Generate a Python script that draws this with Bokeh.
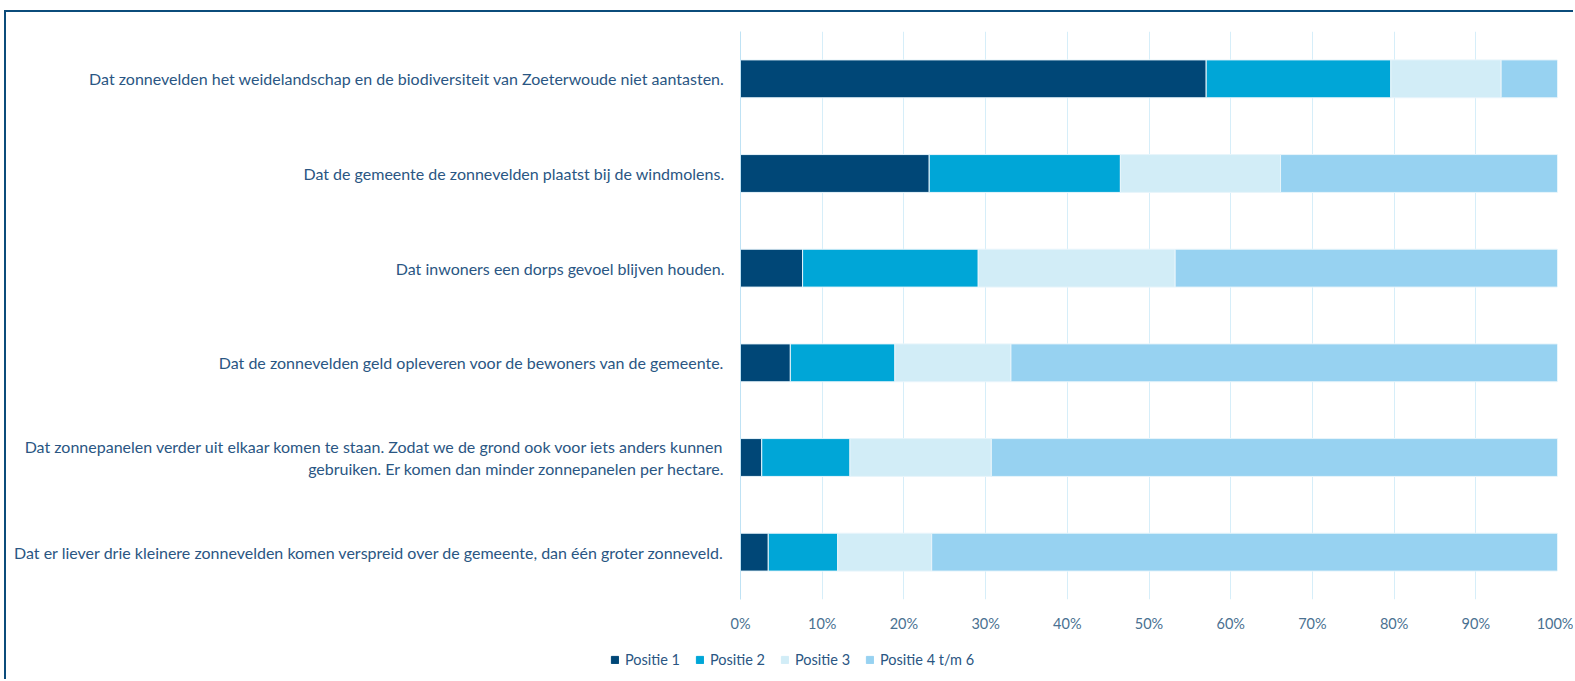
from bokeh.plotting import figure
from bokeh.models import (FactorRange, Range1d, Legend, LegendItem, PrintfTickFormatter,
                          FixedTicker, ColumnDataSource, Label)
from bokeh.embed import file_html
from bokeh.resources import INLINE

statements = [
    "Dat zonnevelden het weidelandschap en de biodiversiteit van Zoeterwoude niet aantasten.",
    "Dat de gemeente de zonnevelden plaatst bij de windmolens.",
    "Dat inwoners een dorps gevoel blijven houden.",
    "Dat de zonnevelden geld opleveren voor de bewoners van de gemeente.",
    "Dat zonnepanelen verder uit elkaar komen te staan. Zodat we de grond ook voor iets anders kunnen\ngebruiken. Er komen dan minder zonnepanelen per hectare.",
    "Dat er liever drie kleinere zonnevelden komen verspreid over de gemeente, dan één groter zonneveld.",
]
series = ["Positie 1", "Positie 2", "Positie 3", "Positie 4 t/m 6"]
positie_1 = [57.0, 23.1, 7.6, 6.1, 2.6, 3.4]
positie_2 = [22.6, 23.4, 21.5, 12.8, 10.8, 8.5]
positie_3 = [13.5, 19.6, 24.1, 14.2, 17.3, 11.5]
positie_4_6 = [6.9, 33.9, 46.8, 66.9, 69.3, 76.6]
x_ticks = [0, 10, 20, 30, 40, 50, 60, 70, 80, 90, 100]

colors = ["#004777", "#00A6D7", "#D2EDF7", "#97D2F1"]
FONT = "Lato"
LABEL_COLOR = "#2A5683"
BORDER = "2px solid #0B4C7B"

source = ColumnDataSource(dict(
    stmt=statements,
    p1=positie_1, p2=positie_2, p3=positie_3, p4=positie_4_6,
))

p = figure(
    width=1569, height=632,
    y_range=FactorRange(*reversed(statements), range_padding=0),
    x_range=Range1d(0, 100),
    output_backend="svg", toolbar_location=None,
    min_border_left=734, min_border_right=18, min_border_top=19, min_border_bottom=45,
)
p.styles = {"border-left": BORDER, "border-top": BORDER,
            "margin-left": "4px", "margin-top": "10px", "vertical-align": "top"}
p.outline_line_color = None

renderers = p.hbar_stack(["p1", "p2", "p3", "p4"], y="stmt", height=0.4, color=colors,
                         line_color="#E8F5FB", line_width=1, source=source)

# grid
p.ygrid.grid_line_color = None
p.xgrid.grid_line_color = "#D6EEF9"
p.xgrid.grid_line_width = 1
p.xgrid.ticker = FixedTicker(ticks=x_ticks)

# x axis
p.xaxis.ticker = FixedTicker(ticks=x_ticks)
p.xaxis.formatter = PrintfTickFormatter(format="%d%%")
p.xaxis.axis_line_color = None
p.xaxis.major_tick_line_color = None
p.xaxis.major_tick_out = 0
p.xaxis.major_tick_in = 0
p.xaxis.minor_tick_line_color = None
p.xaxis.major_label_standoff = 15
p.xaxis.major_label_text_font = FONT
p.xaxis.major_label_text_font_size = "14.5px"
p.xaxis.major_label_text_color = "#4A7191"

# y axis
p.yaxis.axis_line_color = "#BFE2F4"
p.yaxis.major_tick_line_color = None
p.yaxis.major_tick_out = 0
p.yaxis.major_tick_in = 0
p.yaxis.minor_tick_line_color = None
p.yaxis.major_label_standoff = 16
p.yaxis.major_label_text_font = FONT
p.yaxis.major_label_text_font_size = "16px"
p.yaxis.major_label_text_color = LABEL_COLOR

# multi-line statement: lines centred on each other, as in the reference
multi = [i for i, s in enumerate(statements) if "\n" in s]
p.yaxis.major_label_overrides = {statements[i]: " " for i in multi}
for i in multi:
    p.add_layout(Label(
        x=-365, x_units="screen",
        y=len(statements) - 1 - i + 0.5, y_units="data",
        text=statements[i], text_align="center", text_baseline="middle",
        text_font=FONT, text_font_size="16px", text_color=LABEL_COLOR,
        text_line_height=1.3,
    ))

# legend strip below the chart (separate root so its frame spans the full width);
# its bar renderers share the data but lie outside this strip's x range.
pl = figure(
    width=1569, height=37, x_axis_type=None, y_axis_type=None,
    x_range=Range1d(-200, -100), y_range=FactorRange(*reversed(statements)),
    output_backend="svg", toolbar_location=None,
    min_border=0, outline_line_color=None,
)
pl.styles = {"border-left": BORDER, "margin-left": "4px", "display": "block"}
pl.grid.visible = False
leg_renderers = pl.hbar_stack(["p1", "p2", "p3", "p4"], y="stmt", height=0.4, color=colors,
                              source=source)
legend = Legend(
    items=[LegendItem(label=s, renderers=[r]) for s, r in zip(series, leg_renderers)],
    orientation="horizontal", location=(604, 11),
    border_line_color=None, background_fill_alpha=0,
    glyph_width=9, glyph_height=9, label_standoff=6, spacing=15, padding=0, margin=0,
    label_text_font=FONT, label_text_font_size="14.5px", label_text_color=LABEL_COLOR,
)
pl.add_layout(legend)

open("out.html", "w").write(file_html([p, pl], INLINE))
